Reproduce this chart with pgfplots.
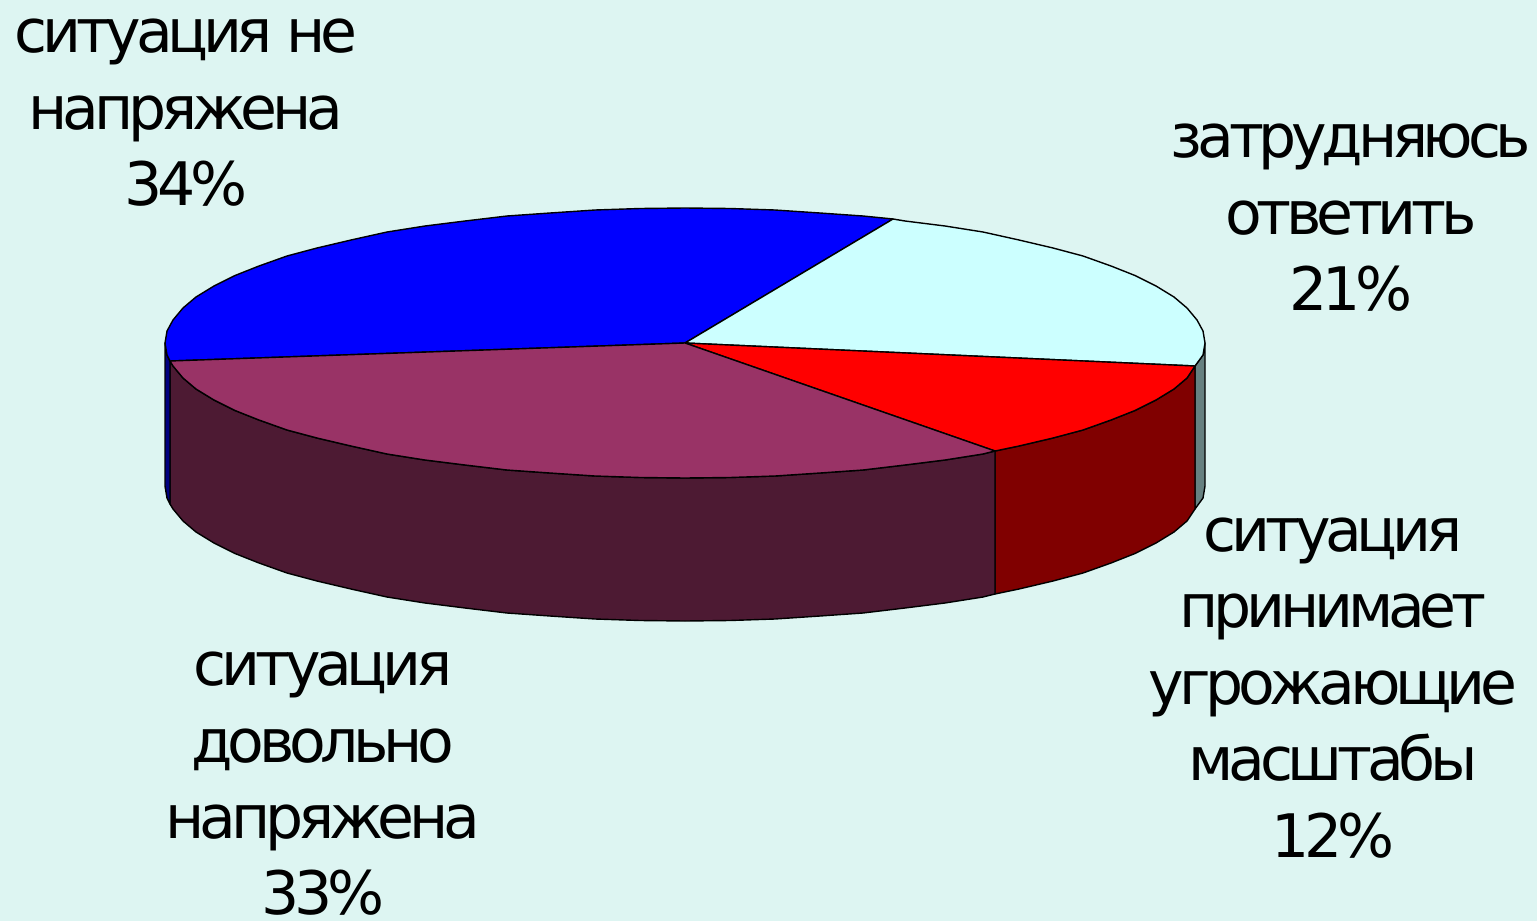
\documentclass[border=0pt]{standalone}
\usepackage{fontspec}
\setmainfont[LetterSpace=-8.8]{DejaVu Sans}
\usepackage{pgfplots}
\pgfplotsset{compat=1.18}
\definecolor{bgc}{RGB}{221,245,242}
\definecolor{topblue}{RGB}{0,0,255}
\definecolor{toplight}{RGB}{204,255,255}
\definecolor{topred}{RGB}{255,0,0}
\definecolor{toppurple}{RGB}{153,51,102}
\definecolor{sideblue}{RGB}{0,0,128}
\definecolor{sidelight}{RGB}{102,128,128}
\definecolor{sidered}{RGB}{128,0,0}
\definecolor{sidepurple}{RGB}{77,26,51}
\begin{document}
\begin{tikzpicture}[
  lbl/.style={align=center, inner sep=0pt, text=black, font=\fontsize{30}{38.2}\selectfont},
]
\useasboundingbox (0,0) rectangle (768.5pt,460.5pt);
\fill[bgc] (0,0) rectangle (768.5pt,460.5pt);
\begin{axis}[
  at={(0,0)}, anchor=south west,
  scale only axis, width=768.5pt, height=460.5pt,
  xmin=0, xmax=1537, ymin=0, ymax=921, y dir=reverse,
  hide axis, clip=false,
  every axis plot/.style={draw=black, line width=0.7pt, line join=round},
]
% side walls (top edge + 143 below)
\addplot[fill=sidelight] coordinates {(1205,343)(1203,355)(1195,366)(1195,509)(1203,498)(1205,486)} --cycle;
\addplot[fill=sidered] coordinates {(1195,366)(1187,378)(1174,389)(1156,400)(1135,410.5)(1111,420)(1083,430)(1053,438)(1019,446)(995,451)
  (995,594)(1019,589)(1053,581)(1083,573)(1111,563)(1135,553.5)(1156,543)(1174,532)(1187,521)(1195,509)} --cycle;
\addplot[fill=sidepurple] coordinates {(995,451)(983,454)(945,460)(905,465)(863,470)(820,473)(775,476)(730,477.5)(685,478)(640,477.5)(595,476)(550,473)(507,470)(465,465)(425,460)(387,454)(351,446)(317,438)(287,430)(259,420)(235,410.5)(214,400)(196,389)(183,378)(173,366)(170,361)
  (170,504)(173,509)(183,521)(196,532)(214,543)(235,553.5)(259,563)(287,573)(317,581)(351,589)(387,597)(425,603)(465,608)(507,613)(550,616)(595,619)(640,620.5)(685,621)(730,620.5)(775,619)(820,616)(863,613)(905,608)(945,603)(983,597)(995,594)} --cycle;
\addplot[fill=sideblue] coordinates {(170,361)(167,355)(165,343)(165,486)(167,498)(170,504)} --cycle;
% top face
\addplot[fill=topblue] coordinates {(685,343)(170,361)(167,355)(165,343)(167,331)(173,320)(183,308)(196,297)(214,286)(235,275.5)(259,266)(287,256)(317,248)(351,240)(387,232)(425,226)(465,221)(507,216)(550,213)(595,210)(640,208.5)(685,208)(730,208.5)(775,210)(820,213)(863,216)(893,219)} --cycle;
\addplot[fill=toplight] coordinates {(685,343)(893,219)(905,221)(945,226)(983,232)(1019,240)(1053,248)(1083,256)(1111,266)(1135,275.5)(1156,286)(1174,297)(1187,308)(1197,320)(1203,331)(1205,343)(1203,355)(1195,366)} --cycle;
\addplot[fill=topred] coordinates {(685,343)(1195,366)(1187,378)(1174,389)(1156,400)(1135,410.5)(1111,420)(1083,430)(1053,438)(1019,446)(995,451)} --cycle;
\addplot[fill=toppurple] coordinates {(685,343)(995,451)(983,454)(945,460)(905,465)(863,470)(820,473)(775,476)(730,477.5)(685,478)(640,477.5)(595,476)(550,473)(507,470)(465,465)(425,460)(387,454)(351,446)(317,438)(287,430)(259,420)(235,410.5)(214,400)(196,389)(183,378)(173,366)(170,361)} --cycle;
% labels
\node[lbl] at (axis cs:186,113) {ситуация не\\напряжена\\34\%};
\node[lbl] at (axis cs:1351,218) {затрудняюсь\\ответить\\21\%};
\node[lbl] at (axis cs:1333,688) {ситуация\\принимает\\угрожающие\\масштабы\\12\%};
\node[lbl] at (axis cs:323,784) {ситуация\\довольно\\напряжена\\33\%};
\end{axis}
\end{tikzpicture}
\end{document}
